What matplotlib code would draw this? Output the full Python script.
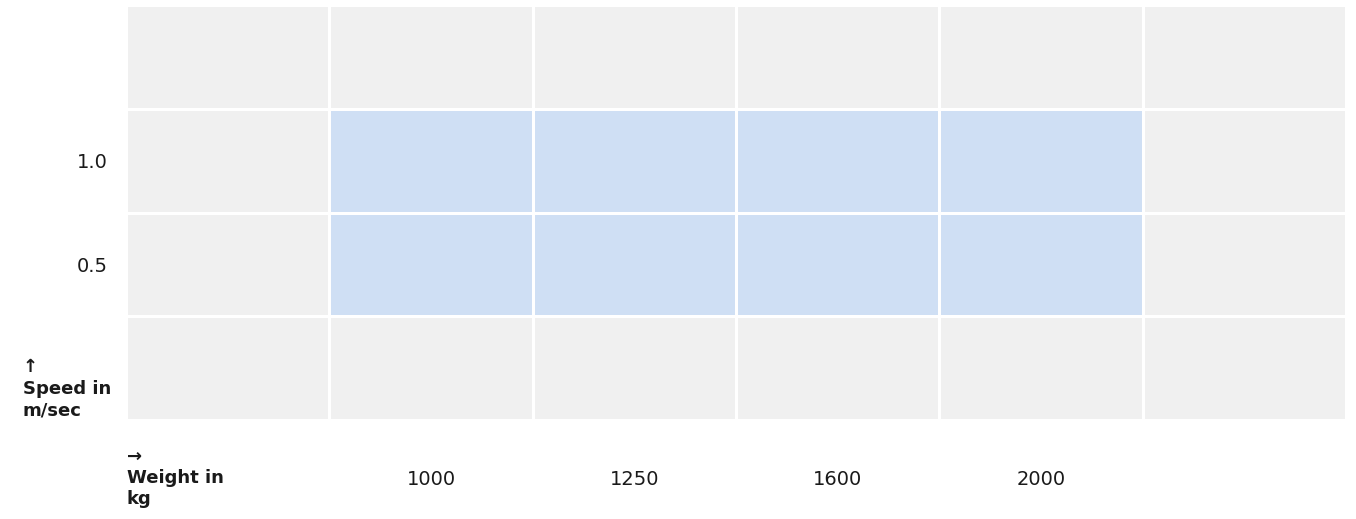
import numpy as np
import matplotlib.pyplot as plt
from matplotlib.colors import ListedColormap

# Categories (outer columns/rows are empty padding bands)
weights = ["", "1000", "1250", "1600", "2000", ""]
speeds = ["", "1.0", "0.5", ""]     # top to bottom

# 1 = available combination, 0 = not
available = np.array([
    [0, 0, 0, 0, 0, 0],
    [0, 1, 1, 1, 1, 0],
    [0, 1, 1, 1, 1, 0],
    [0, 0, 0, 0, 0, 0],
])

W, H = 1356, 519
fig = plt.figure(figsize=(W / 100, H / 100), dpi=100)
ax = fig.add_axes([126 / W, 1 - 420 / H, 1220 / W, 415 / H])

cmap = ListedColormap(["#f0f0f0", "#cfdff4"])
ax.pcolormesh(available, cmap=cmap, vmin=0, vmax=1,
              edgecolors="white", linewidth=1.9)
ax.set_xlim(0, len(weights))
ax.set_ylim(len(speeds), 0)

ax.set_xticks(np.arange(len(weights)) + 0.5)
ax.set_xticklabels(weights, fontsize=14, color="#1a1a1a")
ax.set_yticks(np.arange(len(speeds)) + 0.5)
ax.set_yticklabels(speeds, fontsize=14, color="#1a1a1a")
ax.tick_params(length=0)
ax.tick_params(axis="x", pad=36)
ax.tick_params(axis="y", pad=13)
for s in ax.spines.values():
    s.set_visible(False)

# axis titles
fig.text(127 / W, 1 - 478 / H, "→\nWeight in\nkg", ha="left", va="center",
         fontsize=13, fontweight="bold", color="#1a1a1a", linespacing=1.25)
fig.text(23 / W, 1 - 389 / H, "↑\nSpeed in\nm/sec", ha="left", va="center",
         fontsize=13, fontweight="bold", color="#1a1a1a", linespacing=1.25)

fig.savefig("out.png", dpi=100)
